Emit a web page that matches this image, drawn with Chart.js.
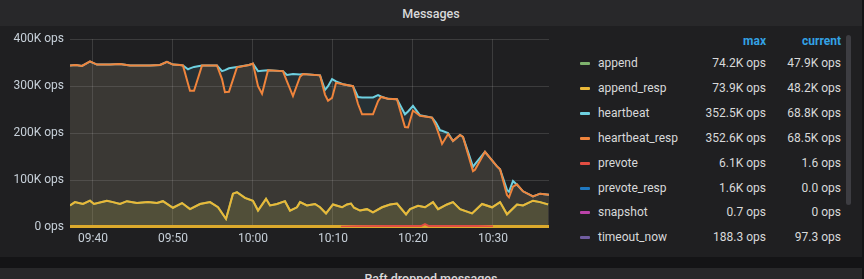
<!DOCTYPE html>
<html>
<head>
<meta charset="utf-8">
<script src="https://cdn.jsdelivr.net/npm/chart.js@4.4.1/dist/chart.umd.min.js"></script>
<style>
  body { margin: 0; background: #141416; font-family: Roboto, "Noto Sans", sans-serif; overflow: hidden; }
  #panel { position: absolute; left: 0; top: 0; width: 862px; height: 257px; background: #1f1f21; }
  #title { position: absolute; left: 0; top: 0; width: 862px; height: 26px; background: #28282a;
           color: #d8d9da; font-size: 12.5px; font-weight: 500; text-align: center; line-height: 27px; }
  #chart { position: absolute; left: 0; top: 26px; }
  #legend { position: absolute; left: 575px; top: 32px; width: 270px; color: #d8d9da; font-size: 12px; }
  .row { position: absolute; left: 0; height: 18px; width: 270px; line-height: 18px; }
  .sw { position: absolute; left: 5px; top: 8px; width: 10px; height: 3px; border-radius: 1px; }
  .nm { position: absolute; left: 23px; }
  .mx { position: absolute; right: 79px; text-align: right; }
  .cu { position: absolute; right: 4px; text-align: right; }
  .hd { color: #33a2e5; font-weight: 700; }
  #scroll { position: absolute; left: 846px; top: 35px; width: 5px; height: 170px; background: #3d3d42; border-radius: 3px; }
  #next { position: absolute; left: 0; top: 268px; width: 862px; height: 30px; background: #28282a;
          color: #d8d9da; font-size: 12.5px; font-weight: 500; text-align: center; line-height: 22px; }
</style>
</head>
<body>
<div id="panel">
  <div id="title">Messages</div>
  <canvas id="chart" width="560" height="231"></canvas>
  <div id="legend"></div>
  <div id="scroll"></div>
</div>
<div id="next">Raft dropped messages</div>
<script>
// heartbeat / heartbeat_resp (K ops)
const hbTimes = ['09:37:08','09:37:52','09:38:38','09:39:38','09:40:30','09:42:08','09:43:23','09:44:38','09:47:08','09:48:23',
  '09:49:15','09:50:00','09:50:53','09:51:15','09:51:53','09:52:08','09:52:38','09:53:38','09:55:30','09:56:08',
  '09:56:30','09:57:00','09:58:00','09:59:30','10:00:00','10:00:38','10:01:08','10:01:53','10:03:45','10:04:15',
  '10:05:00','10:05:53','10:06:15','10:08:23','10:09:00','10:09:23','10:09:53','10:10:23','10:11:15','10:12:30',
  '10:13:08','10:13:38','10:15:00','10:15:38','10:16:00','10:16:53','10:18:00','10:19:00','10:19:23','10:20:00',
  '10:20:53','10:22:23','10:22:53','10:23:23','10:23:38','10:24:23','10:25:00','10:25:53','10:26:15','10:26:53',
  '10:27:30','10:27:45','10:29:00','10:30:30','10:30:53','10:31:45','10:32:00','10:32:30','10:33:00','10:33:45',
  '10:35:00','10:35:53','10:37:00'];
const heartbeat = [344,345,343,352.5,346,346,347,344,344,345,
  352,346,345,344,336,338,341,344,344,332,
  334,338,341,345,348,332,333,334,332,324,
  326,325,326,323,292,300,315,310,304,300,
  277,276,276,281,278,273,272,240,246,258,
  238,233,222,206,205,200,183,196,192,160,
  128,134,160,129,123,79,75,98,90,76,
  65,71,68.8];
const heartbeatResp = [344,345,343,352.6,346,346,347,344,344,345,
  352,346,345,344,305,290,290,344,344,315,
  287,288,340,345,348,300,284,334,332,310,
  279,320,326,323,282,269,275,307,304,300,
  262,240,240,268,277,273,272,213,212,248,
  237,233,215,190,177,198,183,196,192,155,
  119,122,160,129,123,68,63,86,91,76,
  65,71,68.5];

// append / append_resp (K ops)
const appTimes = ['09:37:08','09:37:45','09:38:45','09:39:38','09:40:08','09:41:45','09:42:30','09:43:23','09:44:15','09:45:30',
  '09:46:53','09:48:00','09:48:45','09:50:00','09:51:08','09:52:08','09:53:23','09:54:38','09:55:38','09:56:38',
  '09:57:30','09:58:00','09:59:00','10:00:00','10:00:38','10:01:38','10:02:08','10:03:00','10:04:00','10:04:38',
  '10:05:30','10:05:53','10:06:45','10:07:45','10:08:23','10:09:08','10:10:00','10:11:08','10:11:45','10:12:15',
  '10:12:38','10:13:23','10:14:15','10:15:00','10:16:08','10:17:08','10:18:00','10:19:08','10:19:38','10:20:38',
  '10:21:30','10:22:30','10:23:08','10:24:15','10:25:00','10:25:53','10:27:23','10:28:38','10:29:53','10:30:53',
  '10:31:45','10:33:00','10:33:45','10:35:00','10:35:53','10:36:53'];
const appendResp = [46,53,49,56,49,56,53,49,55,51,
  53,51,55,41,51,38,49,53,42,17,
  71,73.9,62,56,35,60,46,49,55,35,
  42,53,46,49,42,29,48,42,48,50,
  41,35,38,31,42,48,50,27,38,45,
  42,53,38,48,53,38,29,49,42,53,
  27,48,46,56,53,48.2];
const append = [46,53,49,56,49,56,53,49,55,51,
  53,51,55,41,51,38,49,53,42,17,
  71,74.2,62,56,35,60,46,49,55,35,
  42,53,46,49,42,29,48,42,48,50,
  41,35,38,31,42,48,50,27,38,45,
  42,53,38,48,53,38,29,49,42,53,
  27,48,46,56,53,47.9];

// small series near zero (K ops)
const prevoteTimes = ['10:11:00','10:13:00','10:17:00','10:21:00','10:21:30','10:22:00','10:28:00','10:30:00'];
const prevote = [0.5,1.5,2,2,6.1,2,2,1];
const zeroTimes = ['09:37:08','10:20:00','10:37:00'];
const prevoteResp = [0,1.6,0];
const snapshot = [0,0.0007,0];
const timeoutNow = [0.1,0.19,0.1];

const tickLabels = ['09:40','09:50','10:00','10:10','10:20','10:30'];
const yTicks = [0,100,200,300,400];

const seriesNames = ['append','append_resp','heartbeat','heartbeat_resp','prevote','prevote_resp','snapshot','timeout_now'];
const maxLabels = ['74.2K ops','73.9K ops','352.5K ops','352.6K ops','6.1K ops','1.6K ops','0.7 ops','188.3 ops'];
const currentLabels = ['47.9K ops','48.2K ops','68.8K ops','68.5K ops','1.6 ops','0.0 ops','0 ops','97.3 ops'];
const colors = ['#7eb26d','#eab839','#6ed0e0','#ef843c','#e24d42','#1f78c1','#ba43a9','#705da0'];

function toSec(t) {
  const p = t.split(':').map(Number);
  return p[0] * 3600 + p[1] * 60 + (p[2] || 0);
}

function pts(times, vals) {
  return times.map((t, i) => ({ x: toSec(t), y: vals[i] }));
}

function rgba(hex, a) {
  const n = parseInt(hex.slice(1), 16);
  return `rgba(${n >> 16},${(n >> 8) & 255},${n & 255},${a})`;
}

const seriesData = [
  pts(appTimes, append),
  pts(appTimes, appendResp),
  pts(hbTimes, heartbeat),
  pts(hbTimes, heartbeatResp),
  pts(prevoteTimes, prevote),
  pts(zeroTimes, prevoteResp),
  pts(zeroTimes, snapshot),
  pts(zeroTimes, timeoutNow)
];
// lower order = drawn on top
const drawOrder = [6, 5, 8, 7, 1, 2, 3, 4];

const datasets = seriesNames.map((name, i) => ({
  label: name,
  data: seriesData[i],
  borderColor: colors[i],
  backgroundColor: rgba(colors[i], 0.1),
  borderWidth: 2,
  pointRadius: 0,
  tension: 0,
  fill: 'origin',
  order: drawOrder[i]
}));

// yellow zero line, painted just before prevote so the red stays on top
const baseline = {
  id: 'baseline',
  beforeDatasetDraw(chart, args) {
    if (args.index !== 4) return;
    const { ctx, chartArea } = chart;
    const y = chart.scales.y.getPixelForValue(0);
    ctx.save();
    ctx.strokeStyle = '#dcaa2c';
    ctx.lineWidth = 3;
    ctx.beginPath();
    ctx.moveTo(chartArea.left, y - 0.5);
    ctx.lineTo(chartArea.right, y - 0.5);
    ctx.stroke();
    ctx.restore();
  }
};

// legend table
const legend = document.getElementById('legend');
let html = `<div class="row" style="top:0"><span class="mx hd">max</span><span class="cu hd">current</span></div>`;
seriesNames.forEach((name, i) => {
  const top = 22 + i * 24.9;
  html += `<div class="row" style="top:${top}px">
    <span class="sw" style="background:${colors[i]}"></span>
    <span class="nm">${name}</span>
    <span class="mx">${maxLabels[i]}</span>
    <span class="cu">${currentLabels[i]}</span>
  </div>`;
});
legend.innerHTML = html;

const tickFont = { family: 'Roboto', size: 12 };

new Chart(document.getElementById('chart'), {
  type: 'line',
  data: { datasets },
  plugins: [baseline],
  options: {
    responsive: false,
    animation: false,
    layout: { padding: { left: 0, right: 11, top: 9, bottom: 0 } },
    plugins: { legend: { display: false }, tooltip: { enabled: false } },
    scales: {
      x: {
        type: 'linear',
        min: toSec('09:37:08'),
        max: toSec('10:37:00'),
        afterBuildTicks: s => { s.ticks = tickLabels.map(t => ({ value: toSec(t) })); },
        afterFit: s => { s.height = 30; },
        ticks: {
          color: '#c7d0d9',
          font: tickFont,
          padding: 5,
          maxRotation: 0,
          autoSkip: false,
          callback: (v, i) => tickLabels[i]
        },
        grid: { color: 'rgba(255,255,255,0.13)', drawTicks: false },
        border: { display: false }
      },
      y: {
        min: 0,
        max: 400,
        afterBuildTicks: s => { s.ticks = yTicks.map(v => ({ value: v })); },
        afterFit: s => { s.width = 70; },
        ticks: {
          color: '#c7d0d9',
          font: tickFont,
          padding: 6,
          callback: v => v === 0 ? '0 ops' : v + 'K ops'
        },
        grid: { color: 'rgba(255,255,255,0.13)', drawTicks: false },
        border: { display: false }
      }
    }
  }
});
</script>
</body>
</html>
